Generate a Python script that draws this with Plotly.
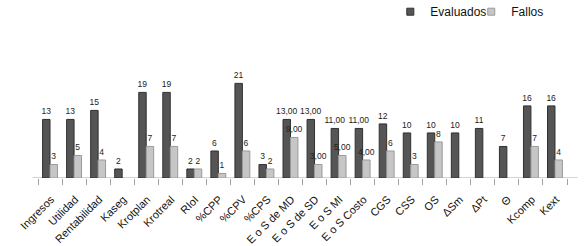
import plotly.graph_objects as go

categories = ["Ingresos", "Utilidad", "Rentabilidad", "Kaseg", "Krotplan", "Krotreal", "RIoI",
              "%CPP", "%CPV", "%CPS", "E o S de MD", "E o S de SD", "E o S MI", "E o S Costo",
              "CGS", "CSS", "OS", "ΔSm", "ΔPt", "Θ", "Kcomp", "Kext"]
evaluados = [13, 13, 15, 2, 19, 19, 2, 6, 21, 3, 13, 13, 11, 11, 12, 10, 10, 10, 11, 7, 16, 16]
fallos = [3, 5, 4, None, 7, 7, 2, 1, 6, 2, 9, 3, 5, 4, 6, 3, 8, None, None, None, 7, 4]
evaluados_text = ["13", "13", "15", "2", "19", "19", "2", "6", "21", "3", "13,00", "13,00",
                  "11,00", "11,00", "12", "10", "10", "10", "11", "7", "16", "16"]
fallos_text = ["3", "5", "4", "", "7", "7", "2", "1", "6", "2", "9,00", "3,00", "5,00", "4,00",
               "6", "3", "8", "", "", "", "7", "4"]

font = "Liberation Sans, Arial, sans-serif"
dark, dark_line = "#555555", "#303030"
light, light_line = "#c6c6c6", "#9a9a9a"

fig = go.Figure()
fig.add_trace(go.Bar(
    x=categories, y=evaluados, name="Evaluados", text=evaluados_text,
    textposition="outside", textfont=dict(size=8.5, color="#222"),
    marker=dict(color=dark, line=dict(color=dark_line, width=1)),
    cliponaxis=False, showlegend=False,
))
fig.add_trace(go.Bar(
    x=categories, y=fallos, name="Fallos", text=fallos_text,
    textposition="outside", textfont=dict(size=8.5, color="#222"),
    marker=dict(color=light, line=dict(color=light_line, width=1)),
    cliponaxis=False, showlegend=False,
))
# legend entries with small square swatches
fig.add_trace(go.Scatter(x=[None], y=[None], mode="markers", name="Evaluados",
                         marker=dict(symbol="square", size=7, color=dark,
                                     line=dict(color=dark_line, width=1)),
                         legend="legend"))
fig.add_trace(go.Scatter(x=[None], y=[None], mode="markers", name="Fallos",
                         marker=dict(symbol="square", size=7, color=light,
                                     line=dict(color=light_line, width=1)),
                         legend="legend2"))

# floor
fig.add_shape(type="rect", xref="paper", yref="y", x0=-0.01, x1=1.02, y0=-0.9, y1=0,
              fillcolor="#d4d4d4", line=dict(color="#a8a8a8", width=1), layer="below")

leg_common = dict(orientation="h", yanchor="top", xanchor="left",
                  font=dict(size=12, color="#111"), itemwidth=30,
                  bgcolor="rgba(0,0,0,0)", y=1.47)

fig.update_layout(
    width=587, height=246,
    margin=dict(l=38, r=20, t=55, b=68, autoexpand=False),
    paper_bgcolor="white", plot_bgcolor="white",
    barmode="group", bargap=0.38, bargroupgap=0.0,
    font=dict(family=font, size=11, color="#222"),
    uniformtext=dict(minsize=8, mode="show"),
    showlegend=True,
    legend=dict(x=0.666, **leg_common),
    legend2=dict(x=0.819, **leg_common),
    xaxis=dict(tickangle=-45, tickfont=dict(size=11, color="#111"), showgrid=False,
               showline=False, ticks="outside", tickson="boundaries", ticklen=6,
               tickcolor="#a0a0a0", tickwidth=1,
               ticklabelstandoff=12, ticklabelshift=1, automargin=False),
    yaxis=dict(visible=False, range=[0, 27.3], automargin=False),
)

fig.write_html("out.html", post_script="document.body.style.margin='0';",
               config={"displayModeBar": False})
